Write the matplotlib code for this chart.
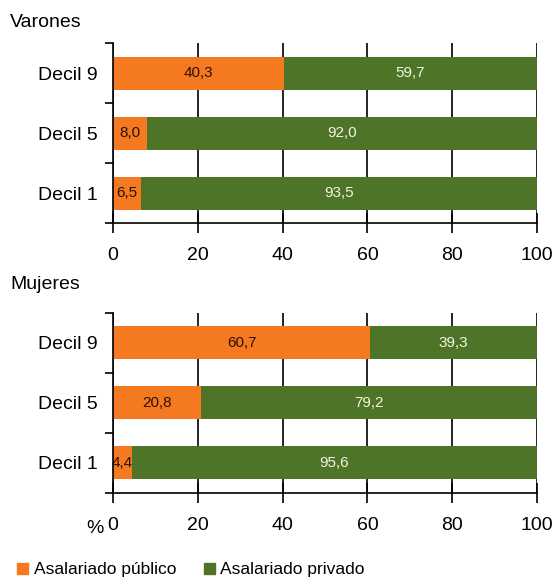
import matplotlib.pyplot as plt
from matplotlib.patches import Patch

# Data
deciles = ["Decil 1", "Decil 5", "Decil 9"]
varones_publico = [6.5, 8.0, 40.3]
varones_privado = [93.5, 92.0, 59.7]
mujeres_publico = [4.4, 20.8, 60.7]
mujeres_privado = [95.6, 79.2, 39.3]
xticks = [0, 20, 40, 60, 80, 100]

ORANGE = "#F47920"
GREEN = "#4E7428"

plt.rcParams["font.family"] = ["Liberation Sans", "DejaVu Sans"]

fig = plt.figure(figsize=(5.58, 5.81), dpi=100)
ax1 = fig.add_axes([0.2025, 0.616, 0.760, 0.310])
ax2 = fig.add_axes([0.2025, 0.1515, 0.760, 0.310])


def draw_panel(ax, publico, privado):
    y = range(len(deciles))
    ax.barh(y, publico, height=0.55, color=ORANGE, zorder=2)
    ax.barh(y, privado, left=publico, height=0.55, color=GREEN, zorder=2)
    for i, (p, q) in enumerate(zip(publico, privado)):
        ax.text(p / 2, i, f"{p:.1f}".replace(".", ","), ha="center",
                va="center", fontsize=11, color="#2a1200", zorder=3)
        ax.text(p + q / 2, i, f"{q:.1f}".replace(".", ","), ha="center",
                va="center", fontsize=11, color="#f4f4e0", zorder=3)
    ax.set_xlim(0, 100)
    ax.set_ylim(-0.5, len(deciles) - 0.5)
    ax.set_xticks(xticks)
    ax.set_xticklabels([str(t) for t in xticks], fontsize=14)
    ax.tick_params(axis="x", direction="inout", length=14, width=1.2, pad=10)
    # category boundaries as y ticks
    ax.set_yticks([-0.5, 0.5, 1.5, 2.5])
    ax.set_yticklabels([])
    ax.set_yticks(range(len(deciles)), minor=True)
    ax.set_yticklabels(deciles, minor=True, fontsize=14)
    ax.tick_params(axis="y", which="major", direction="out", length=6, width=1.2)
    ax.tick_params(axis="y", which="minor", length=0, pad=11)
    ax.xaxis.grid(True, color="black", linewidth=1.2, zorder=1)
    ax.set_axisbelow(True)
    for side in ("top", "right"):
        ax.spines[side].set_visible(False)
    for side in ("left", "bottom"):
        ax.spines[side].set_linewidth(1.2)


draw_panel(ax1, varones_publico, varones_privado)
draw_panel(ax2, mujeres_publico, mujeres_privado)

fig.text(0.018, 0.962, "Varones", fontsize=14, va="center")
fig.text(0.018, 0.510, "Mujeres", fontsize=14, va="center")
fig.text(0.170, 0.091, "%", fontsize=14, va="center", ha="center")

handles = [Patch(color=ORANGE, label="Asalariado público"),
           Patch(color=GREEN, label="Asalariado privado")]
fig.legend(handles=handles, loc="center left", bbox_to_anchor=(0.012, 0.019),
           ncol=2, frameon=False, fontsize=12.5, handlelength=0.65,
           handleheight=0.65, handletextpad=0.3, columnspacing=1.6,
           borderpad=0.1)

plt.savefig("out.png", dpi=100)
